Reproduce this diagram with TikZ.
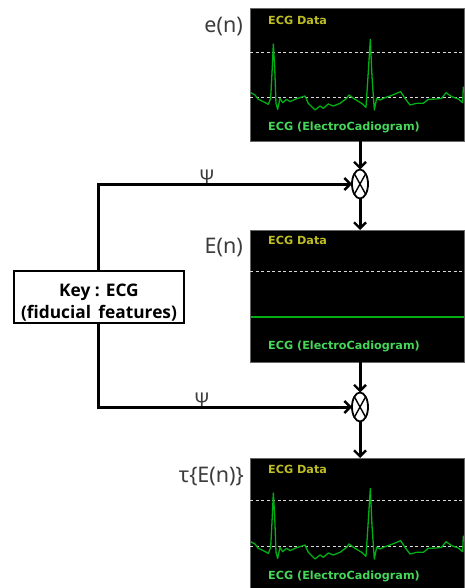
\documentclass[tikz,border=0pt]{standalone}
\usepackage{fontspec}
\setmainfont{Noto Sans}
\newfontfamily\panelfont{DejaVu Sans}
\newfontfamily\keyfont{Open Sans}
\usetikzlibrary{arrows.meta,shapes.geometric}
\definecolor{ecgyellow}{RGB}{190,190,35}
\definecolor{ecglabel}{RGB}{70,215,90}
\definecolor{ecgtraceclr}{RGB}{0,175,20}
\definecolor{lbl}{RGB}{60,60,60}
\tikzset{
  panel/.style={draw=black!60,line width=.5pt,fill=black,minimum width=214pt,minimum height=#1,inner sep=0pt,outer sep=0pt},
  paneltitle/.style={anchor=west,text=ecgyellow,font=\panelfont\bfseries\fontsize{11.2}{12}\selectfont,inner sep=0pt},
  panelcap/.style={anchor=west,text=ecglabel,font=\panelfont\bfseries\fontsize{11.2}{12}\selectfont,inner sep=0pt},
  siglabel/.style={anchor=east,text=lbl,font=\fontsize{21.5}{22}\selectfont,inner sep=0pt},
  psilabel/.style={anchor=base,text=lbl,font=\fontsize{19}{20}\selectfont,inner sep=0pt},
  mixer/.style={draw,ellipse,line width=1.8pt,minimum width=16pt,minimum height=29pt,inner sep=0pt,outer sep=0pt,fill=white},
  conn/.style={line width=3pt,-{Straight Barb[length=6pt,width=12pt,line width=2.4pt]}},
  keybox/.style={draw,line width=1.8pt,fill=white,minimum width=170pt,minimum height=52pt,inner sep=0pt,align=center,font=\keyfont\bfseries\fontsize{17.3}{22}\selectfont},
  gridline/.style={draw=white!85!black,line width=.8pt,dash pattern=on 3pt off 2.5pt},
  trace/.style={draw=ecgtraceclr,line width=1.3pt,line join=round}
}
\newcommand{\ecgcurve}{(32,278)--(45,285)--(55,298)--(70,305)--(85,313)--(92,295)--(97,200)--(100,132)--(104,200)--(108,310)--(113,328)--(120,295)--(128,308)--(140,298)--(150,305)--(170,296)--(195,288)--(205,310)--(225,330)--(240,318)--(250,325)--(265,312)--(280,318)--(300,310)--(320,295)--(327,285)--(345,298)--(365,310)--(378,322)--(384,230)--(391,118)--(396,230)--(403,330)--(410,295)--(420,300)--(435,293)--(450,288)--(482,275)--(495,295)--(510,315)--(530,310)--(550,310)--(565,298)--(590,297)--(605,295)--(618,278)--(635,290)--(655,297)--(668,308)--(670,262)--(672,262)}
\begin{document}
\begin{tikzpicture}[x=1pt,y=-1pt]
\useasboundingbox (0,0) rectangle (464,588);
\fill[white] (0,0) rectangle (464,588);

% panels
\node[panel=132.5pt] (p1) at (357,74.8) {};
\node[panel=132pt] (p2) at (357,296) {};
\node[panel=130pt] (p3) at (357,523) {};

\draw[gridline] (250,52) -- (464,52);
\draw[gridline] (250,97.5) -- (464,97.5);
\draw[gridline] (250,271.5) -- (464,271.5);
\draw[gridline] (250,500.5) -- (464,500.5);
\draw[gridline] (250,546) -- (464,546);

\begin{scope}
  \clip (250.5,9) rectangle (464,141);
  \begin{scope}[shift={(240,0)},x=.3333pt,y=-.3333pt]
    \draw[trace] \ecgcurve;
  \end{scope}
\end{scope}
\begin{scope}
  \clip (250.5,458) rectangle (464,588);
  \begin{scope}[shift={(240,449)},x=.3333pt,y=-.3333pt]
    \draw[trace] \ecgcurve;
  \end{scope}
\end{scope}
\draw[draw=ecgtraceclr,line width=1.5pt] (250.5,317) -- (464,317);

\node[paneltitle] (t1) at (268,20) {ECG Data};
\node[panelcap] (c1) at (268,127.5) {ECG (ElectroCadiogram)};
\node[paneltitle] (t2) at (268,240.5) {ECG Data};
\node[panelcap] (c2) at (268,346.5) {ECG (ElectroCadiogram)};
\node[paneltitle] (t3) at (268,469) {ECG Data};
\node[panelcap] (c3) at (268,576) {ECG (ElectroCadiogram)};

\node[siglabel] (l1) at (243,27) {e(n)};
\node[siglabel] (l2) at (243,248) {E(n)};
\node[siglabel] (l3) at (244,477) {τ\{E(n)\}};

% mixers
\node[mixer] (m1) at (360,184) {};
\node[mixer] (m2) at (360,407) {};
\draw[line width=1.4pt] (m1.north west) -- (m1.south east) (m1.north east) -- (m1.south west);
\draw[line width=1.4pt] (m2.north west) -- (m2.south east) (m2.north east) -- (m2.south west);

% key
\node[keybox] (k) at (99,297) {\rule{0pt}{23pt}Key : ECG\\(fiducial\, features)};
\coordinate (ktop) at (98,271);
\coordinate (kbot) at (98,323);

% connectors
\draw[conn] (p1.south -| m1) -- (m1.north);
\draw[conn] (m1.south) -- (p2.north -| m1);
\draw[conn] (p2.south -| m2) -- (m2.north);
\draw[conn] (m2.south) -- (p3.north -| m2);
\draw[conn] (ktop) |- (m1.west);
\draw[conn] (kbot) |- (m2.west);

% psi
\node[psilabel] (s1) at (207,183) {Ψ};
\node[psilabel] (s2) at (202,406) {Ψ};
\end{tikzpicture}
\end{document}
